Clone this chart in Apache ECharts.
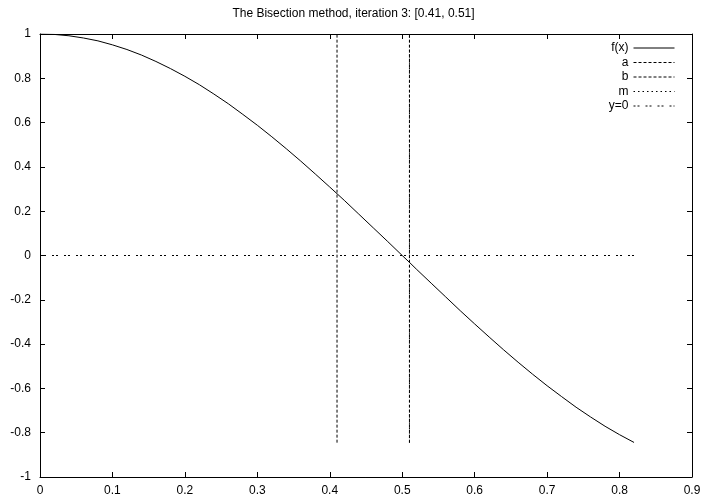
<!DOCTYPE html>
<html>
<head>
<meta charset="utf-8">
<script src="https://cdn.jsdelivr.net/npm/echarts@6/dist/echarts.min.js"></script>
<style>
  html, body { margin: 0; padding: 0; background: #fff; }
  #chart { width: 707px; height: 500px; }
</style>
</head>
<body>
<div id="chart"></div>
<script>
// 曲线 f(x) 的采样点
var xs = [0, 0.02, 0.04, 0.06, 0.08, 0.10, 0.12, 0.14, 0.16, 0.18, 0.20, 0.22, 0.24, 0.26, 0.28, 0.30,
          0.32, 0.34, 0.36, 0.38, 0.40, 0.41, 0.42, 0.44, 0.46, 0.48, 0.50, 0.51, 0.52, 0.54, 0.56,
          0.58, 0.60, 0.62, 0.64, 0.66, 0.68, 0.70, 0.72, 0.74, 0.76, 0.78, 0.80, 0.82];
var fx = [1, 0.998, 0.992, 0.982, 0.969, 0.951, 0.930, 0.905, 0.876, 0.844, 0.809, 0.771, 0.729, 0.685,
          0.637, 0.588, 0.536, 0.482, 0.426, 0.368, 0.309, 0.279, 0.249, 0.187, 0.125, 0.063, 0.000,
          -0.031, -0.063, -0.125, -0.187, -0.249, -0.309, -0.368, -0.426, -0.482, -0.536, -0.588,
          -0.637, -0.685, -0.729, -0.771, -0.809, -0.844];

// 区间端点和中点
var aX = 0.41;
var bX = 0.51;
var mX = 0.51;
var vLow = -0.845;
var vHigh = 1;
var zeroRange = [0, 0.82];

var legendNames = ['f(x)', 'a', 'b', 'm', 'y=0'];

var chart = echarts.init(document.getElementById('chart'));

var font = 'Liberation Sans, Arial, Helvetica, sans-serif';
function fmt(v) { return String(+v.toFixed(1)); }

function vline(x) {
  return [[x, vLow], [x, vHigh]];
}

var curve = xs.map(function (x, i) { return [x, fx[i]]; });

// 四条边框轴, 刻度朝内
function frameAxis(pos, min, max, interval, showLabel) {
  return {
    type: 'value', position: pos, min: min, max: max, interval: interval,
    axisLine: { show: true, onZero: false, lineStyle: { color: '#000', width: 1 } },
    axisTick: { inside: true, length: 5, lineStyle: { color: '#000' } },
    axisLabel: {
      show: showLabel, formatter: fmt, color: '#000', fontSize: 12,
      margin: pos === 'bottom' ? 8 : 9, fontFamily: font
    },
    splitLine: { show: false }
  };
}

var option = {
  animation: false,
  textStyle: { fontFamily: font },
  title: {
    text: 'The Bisection method, iteration 3: [0.41, 0.51]',
    left: 'center',
    top: 3,
    textStyle: { fontSize: 12, fontWeight: 'normal', color: '#000', fontFamily: font }
  },
  // 图例: 文字在左, 线样在右
  legend: {
    data: legendNames,
    orient: 'vertical',
    align: 'right',
    right: 27,
    top: 37,
    itemWidth: 41,
    itemHeight: 12,
    itemGap: 2.5,
    itemStyle: { opacity: 0 },
    lineStyle: { width: 1 },
    textStyle: { fontSize: 12, color: '#000', fontFamily: font },
    selectedMode: false
  },
  grid: { left: 40, right: 15, top: 34, bottom: 23 },
  xAxis: [
    frameAxis('bottom', 0, 0.9, 0.1, true),
    frameAxis('top', 0, 0.9, 0.1, false)
  ],
  yAxis: [
    frameAxis('left', -1, 1, 0.2, true),
    frameAxis('right', -1, 1, 0.2, false)
  ],
  series: [{
    name: 'f(x)', type: 'line', symbol: 'none', data: curve,
    lineStyle: { color: '#000', width: 1 }, itemStyle: { color: '#000' }
  }, {
    name: 'a', type: 'line', symbol: 'none', data: vline(aX),
    lineStyle: { color: '#000', width: 1, type: [3, 2] }, itemStyle: { color: '#000' }
  }, {
    name: 'b', type: 'line', symbol: 'none', data: vline(bX),
    lineStyle: { color: '#000', width: 1, type: [3, 2] }, itemStyle: { color: '#000' }
  }, {
    name: 'm', type: 'line', symbol: 'none', data: vline(mX),
    lineStyle: { color: '#000', width: 1, type: [1.5, 3] }, itemStyle: { color: '#000' }
  }, {
    name: 'y=0', type: 'line', symbol: 'none', data: [[zeroRange[0], 0], [zeroRange[1], 0]],
    lineStyle: { color: '#000', width: 1, type: [2, 2, 2, 6] }, itemStyle: { color: '#000' }
  }]
};

chart.setOption(option);
</script>
</body>
</html>
